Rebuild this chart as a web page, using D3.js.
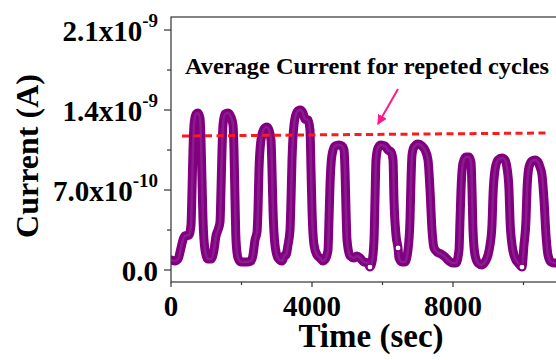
<!DOCTYPE html>
<html>
<head>
<meta charset="utf-8">
<script src="https://cdn.jsdelivr.net/npm/d3@7"></script>
<style>
  html, body { margin: 0; padding: 0; background: #fff; }
  svg { display: block; }
  text { font-family: "Liberation Serif", "Times New Roman", serif; font-weight: bold; fill: #000; }
</style>
</head>
<body>
<svg id="chart" width="556" height="360"></svg>
<script>
// ---- data (time in s, current in A) ----
const timeSec = [
  0,113,199,284,340,397,511,567,596,624,652,709,766,823,851,879,908,965,1050,1135,
  1220,1277,1333,1390,1418,1447,1475,1532,1617,1702,1759,1787,1816,1844,1901,1986,2156,2270,
  2326,2383,2440,2468,2496,2553,2638,2723,2780,2837,2865,2894,2950,3035,3149,3234,3262,
  3319,3376,3404,3433,3489,3575,3660,3745,3801,3887,3943,3972,4000,4057,4142,4227,4312,4397,
  4454,4482,4511,4567,4652,4766,4851,4908,4936,4965,4993,5078,5191,5277,5362,5475,5589,5645,
  5702,5759,5787,5816,5872,5957,6071,6156,6241,6298,6326,6383,6440,6468,6553,6638,
  6723,6780,6809,6837,6894,7007,7121,7206,7291,7348,7404,7461,7546,7660,7773,7886,8000,8085,
  8170,8199,8227,8284,8369,8454,8511,8539,8567,8624,8709,8823,8908,8993,
  9050,9106,9135,9191,9277,9390,9475,9532,9589,9617,9674,9759,9872,9957,
  10014,10071,10099,10156,10241,10326,10411,10468,10525,10582,10638,10695,10780,10894,11035
];
const currentA = [
  0.88e-10,0.79e-10,0.96e-10,1.93e-10,2.63e-10,2.98e-10,3.06e-10,3.94e-10,7.0e-10,10.5e-10,12.69e-10,13.65e-10,13.74e-10,13.3e-10,11.38e-10,7.88e-10,4.38e-10,1.75e-10,0.96e-10,0.96e-10,
  1.75e-10,2.98e-10,3.5e-10,4.2e-10,7.0e-10,10.5e-10,12.69e-10,13.65e-10,13.74e-10,13.39e-10,12.69e-10,10.5e-10,6.13e-10,2.63e-10,1.05e-10,0.70e-10,0.70e-10,0.79e-10,
  1.31e-10,2.63e-10,3.33e-10,5.25e-10,8.75e-10,11.38e-10,12.34e-10,12.51e-10,12.25e-10,11.38e-10,8.75e-10,5.25e-10,2.19e-10,1.05e-10,0.79e-10,1.31e-10,1.31e-10,
  2.19e-10,3.5e-10,6.13e-10,9.63e-10,12.69e-10,13.83e-10,14.0e-10,13.74e-10,13.21e-10,13.13e-10,12.25e-10,8.75e-10,5.25e-10,2.19e-10,1.31e-10,1.05e-10,0.79e-10,1.05e-10,
  1.75e-10,4.38e-10,7.44e-10,10.06e-10,10.85e-10,10.94e-10,10.85e-10,10.5e-10,8.75e-10,5.25e-10,2.63e-10,1.23e-10,1.05e-10,1.23e-10,1.05e-10,0.70e-10,0.61e-10,0.26e-10,
  0.70e-10,2.63e-10,6.13e-10,9.63e-10,10.68e-10,10.94e-10,10.85e-10,10.5e-10,10.33e-10,9.63e-10,6.13e-10,3.06e-10,1.93e-10,1.05e-10,0.70e-10,0.70e-10,
  1.75e-10,4.38e-10,7.88e-10,10.06e-10,10.76e-10,11.03e-10,10.85e-10,10.5e-10,9.63e-10,7.0e-10,3.5e-10,1.93e-10,1.58e-10,1.4e-10,1.14e-10,0.79e-10,0.61e-10,0.61e-10,
  1.75e-10,4.38e-10,7.0e-10,9.36e-10,9.89e-10,9.89e-10,9.45e-10,7.0e-10,3.5e-10,1.31e-10,0.61e-10,0.44e-10,0.70e-10,1.31e-10,
  2.19e-10,3.94e-10,6.56e-10,8.75e-10,9.63e-10,9.8e-10,9.63e-10,8.93e-10,7.0e-10,4.38e-10,2.19e-10,1.05e-10,0.53e-10,0.26e-10,
  2.19e-10,4.38e-10,7.0e-10,9.01e-10,9.54e-10,9.63e-10,9.45e-10,9.01e-10,8.31e-10,6.13e-10,3.06e-10,1.31e-10,0.70e-10,0.61e-10,0.70e-10
];
// isolated open markers visible on the trace
const openMarkerTime = [5645, 6440, 9957];
const openMarkerCurrent = [0.26e-10, 1.93e-10, 0.26e-10];

// average-current reference line
const avgLineTime = [312, 10667];
const avgLineCurrent = [1.1725e-9, 1.199e-9];

// annotation
const annotationText = "Average Current for repeted cycles";
const arrowTime = [6440, 5872];
const arrowCurrent = [1.584e-9, 1.2775e-9];

// ticks
const xMajorTicks = [0, 4000, 8000];
const xMinorTicks = [2000, 6000, 10000];
const yMajorTicks = [0, 7.0e-10, 1.4e-9, 2.1e-9];
const yTickMantissa = ["0.0", "7.0", "1.4", "2.1"];
const yTickExponent = [null, "-10", "-9", "-9"];
const yMinorTicks = [3.5e-10, 1.05e-9, 1.75e-9];

const xTitle = "Time (sec)";
const yTitle = "Current (A)";

// ---- layout ----
const svg = d3.select("#chart");
const L = 171, T = 17, B = 282;
const x = d3.scaleLinear().domain([0, 12000]).range([L, L + 12000 * 0.03525]);
const y = d3.scaleLinear().domain([-0.105e-9, 2.214e-9]).range([B, T]);
const R = x(12000);

// frame
svg.append("rect").attr("x", L).attr("y", T).attr("width", R - L).attr("height", B - T)
  .attr("fill", "none").attr("stroke", "#333").attr("stroke-width", 1.2);

// y ticks
const yAxis = svg.append("g");
yAxis.selectAll("line.maj").data(yMajorTicks).join("line")
  .attr("x1", L - 7).attr("x2", L).attr("y1", d => y(d)).attr("y2", d => y(d))
  .attr("stroke", "#333").attr("stroke-width", 1.2);
yAxis.selectAll("line.min").data(yMinorTicks).join("line")
  .attr("x1", L - 4).attr("x2", L).attr("y1", d => y(d)).attr("y2", d => y(d))
  .attr("stroke", "#333").attr("stroke-width", 1.2);
yMajorTicks.forEach((v, i) => {
  const t = yAxis.append("text")
    .attr("x", L - 13).attr("y", y(v) + 11)
    .attr("text-anchor", "end").style("font-size", "29px");
  if (yTickExponent[i]) {
    t.append("tspan").text(yTickMantissa[i] + "x10");
    t.append("tspan").text(yTickExponent[i]).style("font-size", "19px").attr("dy", -14);
  } else {
    t.text(yTickMantissa[i]);
  }
});

// x ticks
const xAxis = svg.append("g");
xAxis.selectAll("line.maj").data(xMajorTicks).join("line")
  .attr("x1", d => x(d)).attr("x2", d => x(d)).attr("y1", B).attr("y2", B + 5)
  .attr("stroke", "#333").attr("stroke-width", 1.2);
xAxis.selectAll("line.min").data(xMinorTicks).join("line")
  .attr("x1", d => x(d)).attr("x2", d => x(d)).attr("y1", B).attr("y2", B + 3)
  .attr("stroke", "#333").attr("stroke-width", 1.2);
xAxis.selectAll("text").data(xMajorTicks).join("text")
  .attr("x", d => x(d)).attr("y", 316).attr("text-anchor", "middle")
  .style("font-size", "29px").text(d => d);

// titles
svg.append("text").attr("x", 371).attr("y", 347).attr("text-anchor", "middle")
  .style("font-size", "33px").text(xTitle);
svg.append("text").attr("transform", "translate(38,156) rotate(-90)")
  .attr("text-anchor", "middle").style("font-size", "32px").text(yTitle);

// clip for plot
svg.append("clipPath").attr("id", "plotclip").append("rect")
  .attr("x", L).attr("y", T).attr("width", R - L).attr("height", B - T);
const plot = svg.append("g").attr("clip-path", "url(#plotclip)");

// data trace
const pts = timeSec.map((t, i) => [t, currentA[i]]);
const line = d3.line().x(d => x(d[0])).y(d => y(d[1])).curve(d3.curveMonotoneX);
plot.append("path").datum(pts).attr("d", line)
  .attr("fill", "none").attr("stroke", "#800080").attr("stroke-width", 9)
  .attr("stroke-linejoin", "round").attr("stroke-linecap", "round");
plot.append("path").datum(pts).attr("d", line)
  .attr("fill", "none").attr("stroke", "#9a3fa0").attr("stroke-width", 2.5)
  .attr("stroke-opacity", 0.45).attr("stroke-linejoin", "round");
plot.selectAll("circle.open").data(openMarkerTime).join("circle")
  .attr("cx", d => x(d)).attr("cy", (d, i) => y(openMarkerCurrent[i])).attr("r", 3)
  .attr("fill", "#fff").attr("stroke", "#800080").attr("stroke-width", 1.2);

// average line
plot.append("line")
  .attr("x1", x(avgLineTime[0])).attr("y1", y(avgLineCurrent[0]))
  .attr("x2", x(avgLineTime[1])).attr("y2", y(avgLineCurrent[1]))
  .attr("stroke", "#ff1a1a").attr("stroke-width", 3).attr("stroke-dasharray", "7,4.5");

// arrow
svg.append("defs").append("marker").attr("id", "ah")
  .attr("viewBox", "0 0 10 10").attr("refX", 9).attr("refY", 5)
  .attr("markerWidth", 5).attr("markerHeight", 5).attr("orient", "auto")
  .append("path").attr("d", "M0,0 L10,5 L0,10 z").attr("fill", "#ff1a8c");
svg.append("line")
  .attr("x1", x(arrowTime[0])).attr("y1", y(arrowCurrent[0]))
  .attr("x2", x(arrowTime[1])).attr("y2", y(arrowCurrent[1]))
  .attr("stroke", "#ff1a8c").attr("stroke-width", 2).attr("marker-end", "url(#ah)");

// annotation text
svg.append("text").attr("x", 185).attr("y", 74).style("font-size", "24px")
  .attr("textLength", 364).attr("lengthAdjust", "spacingAndGlyphs")
  .text(annotationText);
</script>
</body>
</html>
